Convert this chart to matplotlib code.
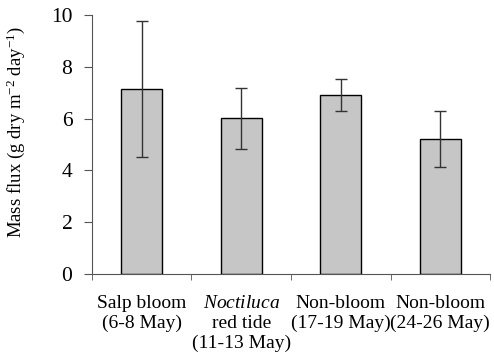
import matplotlib
matplotlib.use("Agg")
import matplotlib.pyplot as plt
import numpy as np

categories = ["Salp bloom\n(6-8 May)", "$\\mathit{Noctiluca}$\nred tide\n(11-13 May)",
              "Non-bloom\n(17-19 May)", "Non-bloom\n(24-26 May)"]
values = [7.14, 6.01, 6.91, 5.22]
errors = [2.62, 1.17, 0.62, 1.07]
yticks = [0, 2, 4, 6, 8, 10]

plt.rcParams['font.family'] = ['Liberation Serif', 'DejaVu Serif']
plt.rcParams['mathtext.fontset'] = 'custom'
plt.rcParams['mathtext.rm'] = 'Liberation Serif'
plt.rcParams['mathtext.it'] = 'Liberation Serif:italic'
plt.rcParams['font.size'] = 14

fig = plt.figure(figsize=(4.94, 3.6), dpi=100)
ax = fig.add_axes([0.186, 0.239, 0.806, 0.719])
x = np.arange(len(values))
ax.bar(x, values, width=0.41, color='#c6c6c6', edgecolor='black', linewidth=1.0, zorder=2)
ax.errorbar(x, values, yerr=errors, fmt='none', ecolor='#333333', elinewidth=1.0,
            capsize=4, capthick=1.0, zorder=3)
ax.set_xlim(-0.5, 3.5)
ax.set_ylim(0, 10)
ax.set_yticks(yticks)
ax.set_yticklabels([str(v) for v in yticks], fontsize=15.5)
ax.set_xticks(x)
ax.set_xticklabels(categories, linespacing=1.22, fontsize=14)
ax.tick_params(axis='x', which='major', length=0, pad=15)
ax.set_xticks(np.arange(-0.5, 4.0, 1.0), minor=True)
ax.tick_params(axis='x', which='minor', length=4.5, direction='out', color='#555555')
ax.tick_params(axis='y', length=6, direction='out', color='#555555', pad=8)
for s in ['top', 'right']:
    ax.spines[s].set_visible(False)
for s in ['left', 'bottom']:
    ax.spines[s].set_color('#555555')
ax.set_ylabel("Mass flux (g dry m$^{-2}$ day$^{-1}$)", fontsize=13.5)
ax.yaxis.set_label_coords(-0.163, 0.55)
fig.savefig("out.png", dpi=100)
